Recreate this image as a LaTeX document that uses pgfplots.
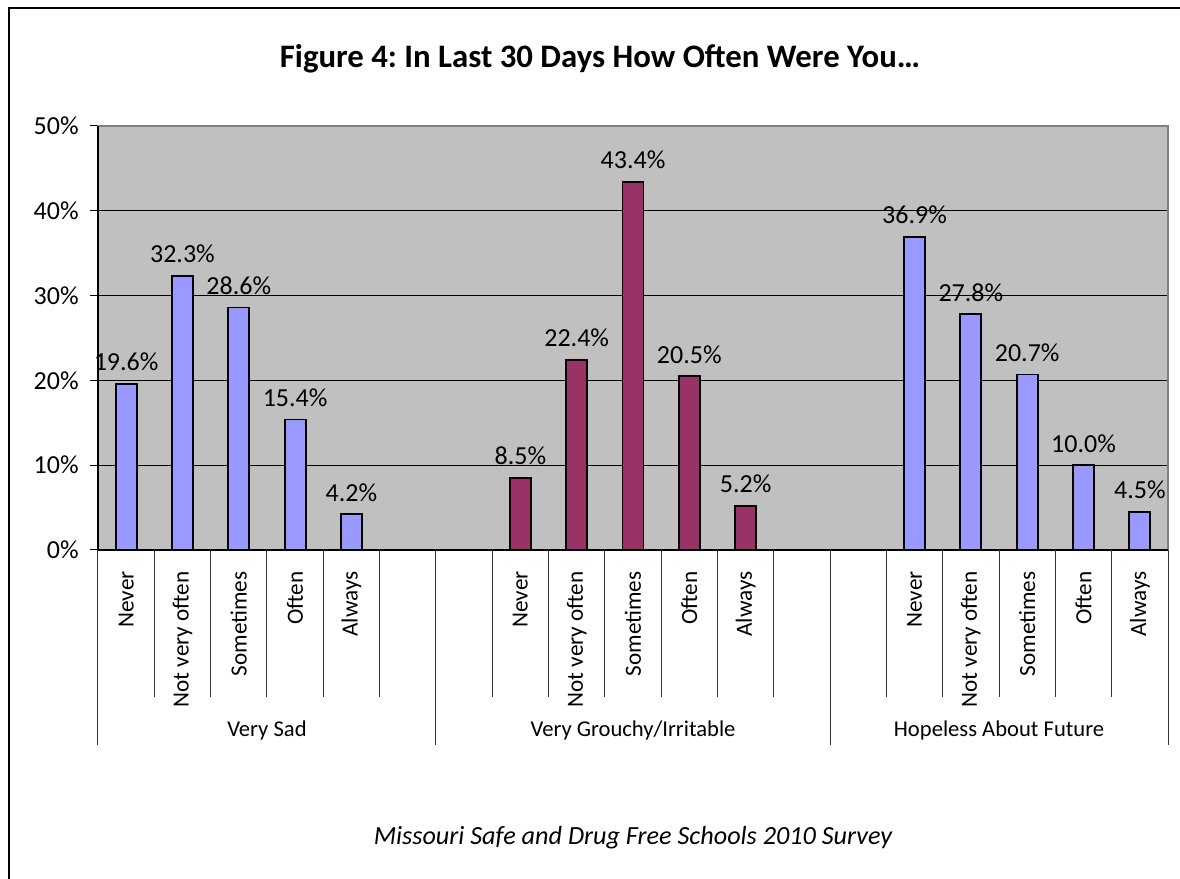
\documentclass[border=0pt]{standalone}
\usepackage{pgfplots}
\pgfplotsset{compat=1.18}
\usepackage{fontspec}
\setmainfont{Carlito}
\frenchspacing
\definecolor{peri}{RGB}{153,153,255}
\definecolor{maroonbar}{RGB}{153,51,102}
\definecolor{plotgrey}{RGB}{192,192,192}
\definecolor{bordergrey}{RGB}{128,128,128}
\begin{document}
\begin{tikzpicture}[x=0.5pt,y=0.5pt]
\useasboundingbox (0,0) rectangle (1180,879);
\fill[white] (0,0) rectangle (1180,879);
\draw[line width=1pt] (9,-20) -- (9,870.5) -- (1200,870.5);
\begin{axis}[
  at={(49pt,164.5pt)}, anchor=south west,
  scale only axis, width=535pt, height=212pt,
  xmin=-0.5, xmax=18.5, ymin=0, ymax=50,
  clip=false,
  axis background/.style={fill=plotgrey},
  axis line style={bordergrey, line width=0.6pt},
  ybar, bar width=10.5pt, bar shift=0pt,
  /pgf/number format/assume math mode=true,
  ytick={0,10,20,30,40,50},
  yticklabels={0\%,10\%,20\%,30\%,40\%,50\%},
  ymajorgrids, major grid style={black, line width=0.5pt},
  xtick={0,1,2,3,4,7,8,9,10,11,14,15,16,17,18},
  xticklabels={Never,Not very often,Sometimes,Often,Always,Never,Not very often,Sometimes,Often,Always,Never,Not very often,Sometimes,Often,Always},
  xtick style={draw=none},
  ytick style={black, line width=0.5pt},
  tick align=outside, ytick pos=left, xtick pos=bottom, major tick length=4pt,
  xticklabel style={rotate=90, anchor=east, inner sep=0pt, font=\fontsize{11.6}{13}\selectfont},
  xticklabel shift=6.5pt,
  yticklabel style={anchor=east, inner sep=0pt, font=\fontsize{13}{15}\selectfont},
  yticklabel shift=5.5pt,
  nodes near coords={\pgfmathprintnumber[fixed,fixed zerofill,precision=1]{\pgfplotspointmeta}\%},
  every node near coord/.append style={font=\fontsize{13}{15}\selectfont, text=black, inner sep=0pt, yshift=6pt},
]
\addplot[fill=peri, draw=black, line width=0.9pt] coordinates {(0,19.6) (1,32.3) (2,28.6) (3,15.4) (4,4.2)};
\addplot[fill=maroonbar, draw=black, line width=0.9pt] coordinates {(7,8.5) (8,22.4) (9,43.4) (10,20.5) (11,5.2)};
\addplot[fill=peri, draw=black, line width=0.9pt] coordinates {(14,36.9) (15,27.8) (16,20.7) (17,10.0) (18,4.5)};
\draw[black, line width=0.6pt] (rel axis cs:0,0) -- (rel axis cs:0,1);
\draw[black, line width=0.8pt] (rel axis cs:0,0) -- (rel axis cs:1,0);
\pgfplotsinvokeforeach{0.5,1.5,2.5,3.5,4.5,6.5,7.5,8.5,9.5,10.5,11.5,13.5,14.5,15.5,16.5,17.5}{
  \draw[black!80, line width=0.5pt] (axis cs:#1,0) -- ++(0pt,-73.5pt);
}
\pgfplotsinvokeforeach{-0.5,5.5,12.5,18.5}{
  \draw[black!80, line width=0.5pt] (axis cs:#1,0) -- ++(0pt,-97.5pt);
}
\node[font=\fontsize{11.3}{13}\selectfont, yshift=-90pt] at (axis cs:2.5,0) {Very Sad};
\node[font=\fontsize{11.3}{13}\selectfont, yshift=-90pt] at (axis cs:9,0) {Very Grouchy/Irritable};
\node[font=\fontsize{11.3}{13}\selectfont, yshift=-90pt] at (axis cs:15.5,0) {Hopeless About Future};
\end{axis}
\node[anchor=base, font=\bfseries\fontsize{16.4}{19}\selectfont] at (600,811) {Figure 4: In Last 30 Days How Often Were You…};
\node[anchor=base, font=\itshape\fontsize{13.1}{15}\selectfont] at (633,34) {Missouri Safe and Drug Free Schools 2010 Survey};
\end{tikzpicture}
\end{document}
